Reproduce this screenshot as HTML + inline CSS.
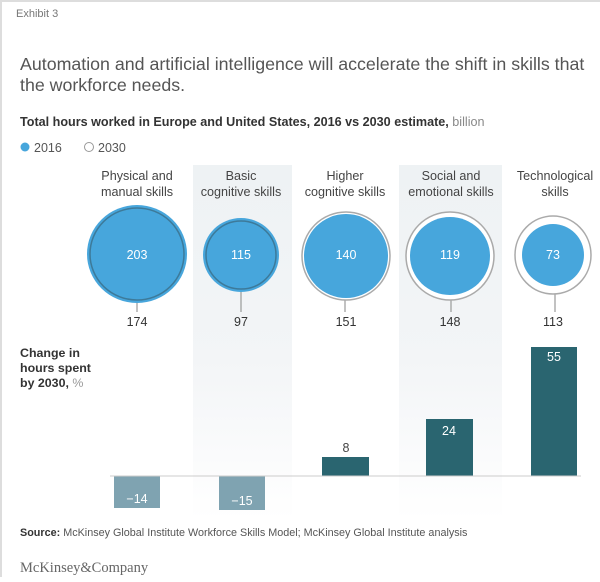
<!DOCTYPE html>
<html><head><style>
body{margin:0;background:#fff;}
svg text{font-family:"Liberation Sans",sans-serif;}
</style></head><body>
<svg width="600" height="577" viewBox="0 0 600 577" xmlns="http://www.w3.org/2000/svg">
<defs>
<linearGradient id="bg" x1="0" y1="0" x2="0" y2="1">
<stop offset="0" stop-color="#eef2f4"/><stop offset="0.55" stop-color="#f3f5f7"/><stop offset="1" stop-color="#ffffff"/>
</linearGradient>
</defs>
<rect x="0" y="0" width="600" height="577" fill="#fff"/>
<line x1="0" y1="1" x2="600" y2="1" stroke="#ddd" stroke-width="2"/>
<line x1="1" y1="0" x2="1" y2="577" stroke="#ddd" stroke-width="2"/>
<text x="16" y="17" font-size="11" fill="#777">Exhibit 3</text>
<text x="20" y="70" font-size="17.8" fill="#555">Automation and artificial intelligence will accelerate the shift in skills that</text>
<text x="20" y="91" font-size="17.8" fill="#555">the workforce needs.</text>
<text x="20" y="126" font-size="12.6" font-weight="bold" fill="#333">Total hours worked in Europe and United States, 2016 vs 2030 estimate, <tspan font-weight="normal" fill="#888">billion</tspan></text>
<circle cx="25" cy="147" r="4.5" fill="#47a6dc"/>
<text x="34" y="152" font-size="12.5" fill="#555">2016</text>
<circle cx="89" cy="147" r="4.5" fill="none" stroke="#999"/>
<text x="98" y="152" font-size="12.5" fill="#555">2030</text>
<rect x="193" y="165" width="99" height="355" fill="url(#bg)"/>
<rect x="399" y="165" width="103" height="355" fill="url(#bg)"/>
<g font-size="12.6" fill="#444" text-anchor="middle">
<text x="137" y="180">Physical and</text><text x="137" y="196">manual skills</text>
<text x="241" y="180">Basic</text><text x="241" y="196">cognitive skills</text>
<text x="345" y="180">Higher</text><text x="345" y="196">cognitive skills</text>
<text x="451" y="180">Social and</text><text x="451" y="196">emotional skills</text>
<text x="555" y="180">Technological</text><text x="555" y="196">skills</text>
</g>
<g stroke="#999" stroke-width="1.2">
<line x1="137" y1="300" x2="137" y2="312"/><line x1="241" y1="290" x2="241" y2="312"/>
<line x1="345" y1="298" x2="345" y2="312"/><line x1="451" y1="298" x2="451" y2="312"/><line x1="555" y1="292" x2="555" y2="312"/>
</g>
<ellipse cx="137" cy="254" rx="50" ry="49" fill="#47a6dc"/>
<ellipse cx="137" cy="254" rx="47" ry="46" fill="none" stroke="#3d7a9a" stroke-width="1.5"/>
<ellipse cx="241" cy="255" rx="38" ry="37" fill="#47a6dc"/>
<ellipse cx="241" cy="255" rx="35" ry="34" fill="none" stroke="#3d7a9a" stroke-width="1.5"/>
<ellipse cx="346" cy="256" rx="44" ry="44" fill="#fff" stroke="#aaa" stroke-width="1.5"/>
<ellipse cx="346" cy="256" rx="42" ry="42" fill="#47a6dc"/>
<ellipse cx="450" cy="256" rx="44" ry="44" fill="#fff" stroke="#aaa" stroke-width="1.5"/>
<ellipse cx="450" cy="256" rx="40" ry="39" fill="#47a6dc"/>
<ellipse cx="553" cy="255" rx="38" ry="39" fill="#fff" stroke="#aaa" stroke-width="1.5"/>
<ellipse cx="553" cy="255" rx="31" ry="31" fill="#47a6dc"/>
<g font-size="12.5" fill="#fff" text-anchor="middle">
<text x="137" y="259">203</text><text x="241" y="259">115</text><text x="346" y="259">140</text><text x="450" y="259">119</text><text x="553" y="259">73</text>
</g>
<g font-size="12.5" fill="#333" text-anchor="middle">
<text x="137" y="326">174</text><text x="241" y="326">97</text><text x="346" y="326">151</text><text x="450" y="326">148</text><text x="553" y="326">113</text>
</g>
<g font-size="12.4" font-weight="bold" fill="#333">
<text x="20" y="357">Change in</text><text x="20" y="372">hours spent</text><text x="20" y="387">by 2030, <tspan font-weight="normal" fill="#999">%</tspan></text>
</g>
<rect x="114" y="476" width="46" height="32" fill="#7fa3b1"/>
<rect x="219" y="476" width="46" height="34" fill="#7fa3b1"/>
<rect x="322" y="457" width="47" height="19" fill="#2a6570"/>
<rect x="426" y="419" width="47" height="57" fill="#2a6570"/>
<rect x="531" y="347" width="46" height="129" fill="#2a6570"/>
<line x1="110" y1="476" x2="581" y2="476" stroke="#ccc" stroke-width="1"/>
<g font-size="12.5" text-anchor="middle">
<text x="137" y="503" fill="#fff">−14</text><text x="242" y="505" fill="#fff">−15</text>
<text x="346" y="452" fill="#444">8</text><text x="449" y="435" fill="#fff">24</text><text x="554" y="361" fill="#fff">55</text>
</g>
<text x="20" y="536" font-size="10.8" fill="#555"><tspan font-weight="bold" fill="#333">Source:</tspan> McKinsey Global Institute Workforce Skills Model; McKinsey Global Institute analysis</text>
<text x="20" y="572" font-size="14.5" fill="#666" style="font-family:'Liberation Serif',serif">McKinsey&amp;Company</text>
</svg>
</body></html>
